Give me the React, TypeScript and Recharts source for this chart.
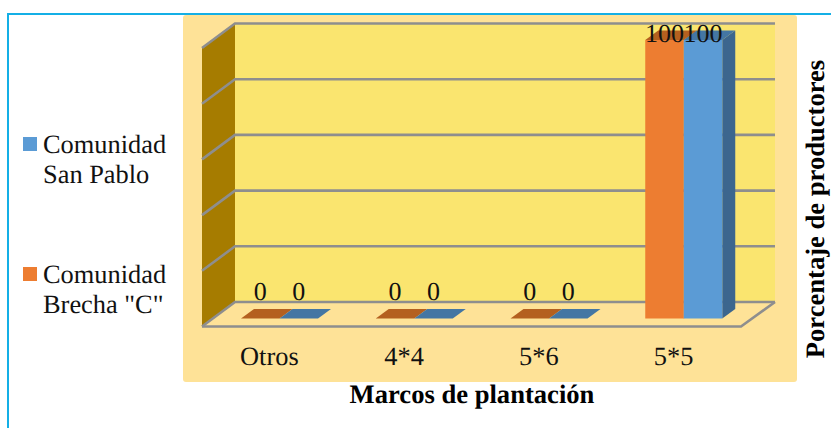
import React from 'react'
import { Bar, BarChart, LabelList, XAxis, YAxis, usePlotArea } from 'recharts'

const categories = ['Otros', '4*4', '5*6', '5*5']
const brechaValues = [0, 0, 0, 100]
const sanPabloValues = [0, 0, 0, 100]
const yTicks = [0, 20, 40, 60, 80, 100]

const brechaName = 'Comunidad Brecha "C"'
const sanPabloName = 'Comunidad San Pablo'
const xTitle = 'Marcos de plantación'
const yTitle = 'Porcentaje de productores'

const data = categories.map((name, i) => ({
  name,
  brecha: brechaValues[i],
  sanPablo: sanPabloValues[i],
}))

const FONT = '"Liberation Serif", "Times New Roman", serif'
const LINE = '#8e8e8e'
const DEPTH_X = 13
const DEPTH_Y = 9.5

const poly = (pts: number[][]) => pts.map((p) => p.join(',')).join(' ')

// Panel, side wall, back wall and floor, hung off the plot area
function Walls() {
  const plot = usePlotArea()
  if (!plot) return null
  const { x, y, width, height } = plot
  const right = x + width
  const frontL = x - 10
  const frontR = right - 10
  const backL = x + 23
  const backR = right + 24
  const tickY = (t: number) => y + height * (1 - t / 100)

  return (
    <g>
      <rect x={183} y={15} width={614} height={367} rx={3} fill="#fee297" />
      <rect x={backL} y={tickY(100) - 16.5} width={backR - backL} height={height} fill="#fae56f" />
      <polygon
        points={poly([
          [frontL, tickY(100) + 8],
          [backL, tickY(100) - 16.5],
          [backL, tickY(0) - 16.5],
          [frontL, tickY(0) + 8],
        ])}
        fill="#a67c00"
      />
      {yTicks.map((t) => (
        <polyline
          key={t}
          points={poly([
            [frontL, tickY(t) + 8],
            [backL, tickY(t) - 16.5],
            [backR, tickY(t) - 16.5],
          ])}
          fill="none"
          stroke={LINE}
          strokeWidth={2.6}
        />
      ))}
      <polyline
        points={poly([
          [frontL, tickY(0) + 8],
          [frontR, tickY(0) + 8],
          [backR, tickY(0) - 16.5],
        ])}
        fill="none"
        stroke={LINE}
        strokeWidth={2.6}
      />
      <text x={472} y={403} textAnchor="middle" fontFamily={FONT} fontWeight="bold" fontSize={26.6} fill="#000" textRendering="geometricPrecision">
        {xTitle}
      </text>
      <text
        transform="translate(824 209) rotate(-90)"
        textAnchor="middle"
        fontFamily={FONT}
        fontWeight="bold"
        fontSize={26.6}
        fill="#000"
        textRendering="geometricPrecision"
      >
        {yTitle}
      </text>
    </g>
  )
}

// Extruded column: front face, top and right side
function Bar3D({ x, y, width, height, fill, topFill, sideFill }: any) {
  const top = poly([
    [x, y],
    [x + width, y],
    [x + width + DEPTH_X, y - DEPTH_Y],
    [x + DEPTH_X, y - DEPTH_Y],
  ])
  const side = poly([
    [x + width, y],
    [x + width + DEPTH_X, y - DEPTH_Y],
    [x + width + DEPTH_X, y + height - DEPTH_Y],
    [x + width, y + height],
  ])
  return (
    <g>
      <polygon points={side} fill={sideFill} />
      <polygon points={top} fill={topFill} />
      <rect x={x} y={y} width={width} height={height} fill={fill} />
    </g>
  )
}

// Zero labels float above the floor tile, the others sit on the top edge
function ValueLabel({ x, y, width, value }: any) {
  const baseline = value === 0 ? y - 18.5 : y + 2
  return (
    <text x={x + width / 2} y={baseline} textAnchor="middle" fontFamily={FONT} fontSize={26} fill="#111" textRendering="geometricPrecision">
      {value}
    </text>
  )
}

function CategoryTick({ x, payload }: any) {
  return (
    <text x={x - 10} y={365} textAnchor="middle" fontFamily={FONT} fontSize={26.4} fill="#111" textRendering="geometricPrecision">
      {payload.value}
    </text>
  )
}

function LegendEntry({ name, color, top }: { name: string; color: string; top: number }) {
  const [first, ...rest] = name.split(' ')
  return (
    <div style={{ position: 'absolute', left: 23, top, fontFamily: FONT, fontSize: 26.4, lineHeight: '30px', color: '#111', textRendering: 'geometricPrecision' }}>
      <span style={{ position: 'absolute', left: 0, top: 8, width: 14, height: 14, background: color }} />
      <div style={{ marginLeft: 20, whiteSpace: 'nowrap' }}>
        {first}
        <br />
        {rest.join(' ')}
      </div>
    </div>
  )
}

export default function App() {
  return (
    <div style={{ position: 'absolute', left: 0, top: 0, width: 831, height: 428, background: '#fff', overflow: 'hidden' }}>
      <div style={{ position: 'absolute', left: 7, top: 13, width: 824, height: 415, borderLeft: '2px solid #14afe6', borderTop: '2px solid #14afe6' }} />
      <div style={{ position: 'absolute', left: 0, top: 0 }}>
        <BarChart
          width={831}
          height={428}
          data={data}
          barSize={38.5}
          barGap={0}
          margin={{ top: 40, right: 80, bottom: 49.5, left: 212 }}
        >
          <Walls />
          <XAxis dataKey="name" height={60} axisLine={false} tickLine={false} tick={<CategoryTick />} interval={0} />
          <YAxis hide domain={[0, 100]} ticks={yTicks} />
          <Bar
            dataKey="brecha"
            name={brechaName}
            fill="#ed7d31"
            isAnimationActive={false}
            shape={(props: any) => <Bar3D {...props} topFill="#b4601f" sideFill="#b4601f" />}
          >
            <LabelList dataKey="brecha" content={<ValueLabel />} />
          </Bar>
          <Bar
            dataKey="sanPablo"
            name={sanPabloName}
            fill="#5b9bd5"
            isAnimationActive={false}
            shape={(props: any) => <Bar3D {...props} topFill="#4476a3" sideFill="#3c668e" />}
          >
            <LabelList dataKey="sanPablo" content={<ValueLabel />} />
          </Bar>
        </BarChart>
      </div>
      <LegendEntry name={sanPabloName} color="#5b9bd5" top={129} />
      <LegendEntry name={brechaName} color="#ed7d31" top={259} />
    </div>
  )
}
